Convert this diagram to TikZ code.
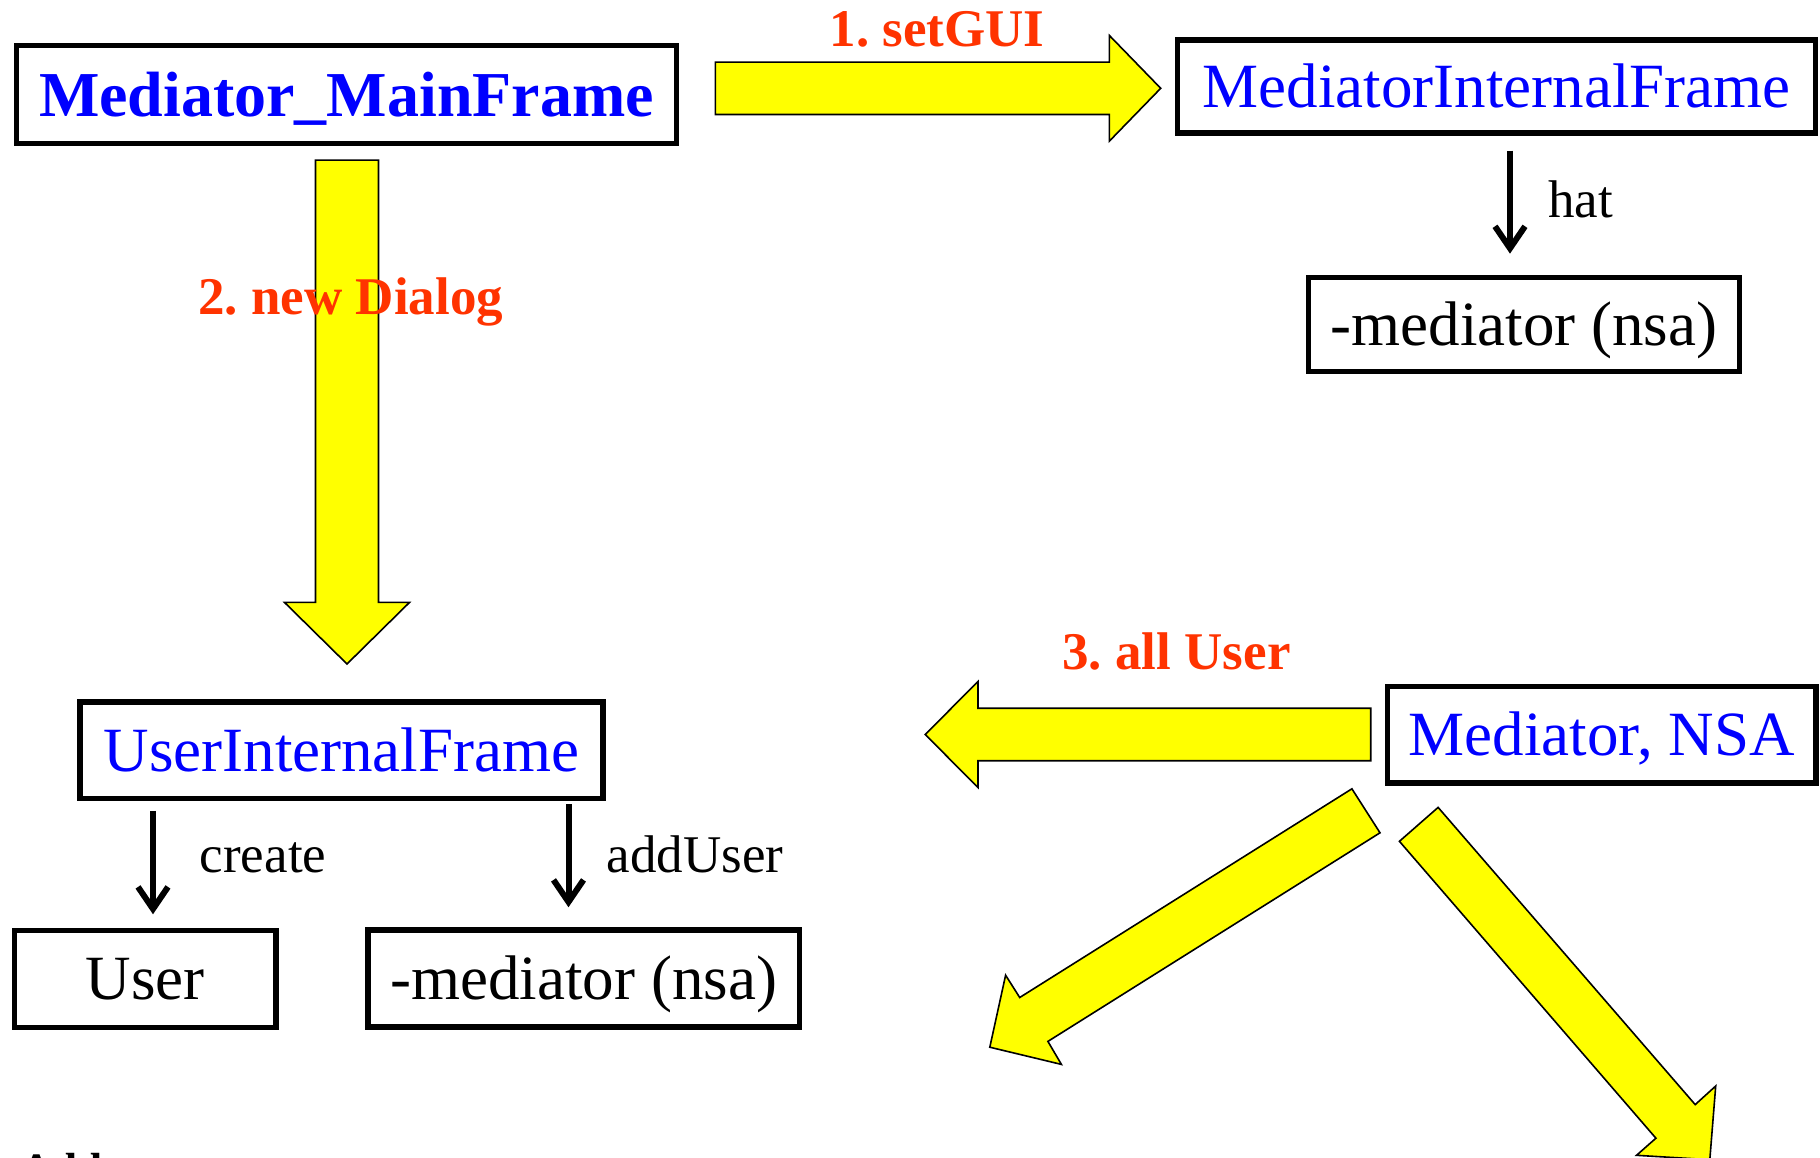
\documentclass[tikz,border=0pt]{standalone}
\usepackage{fontspec}
\setmainfont{Liberation Serif}
\usetikzlibrary{arrows.meta}
\frenchspacing
\definecolor{lblred}{RGB}{255,51,0}
\definecolor{boxblue}{RGB}{0,0,255}
\definecolor{arrowyellow}{RGB}{255,255,0}
\tikzset{
  box/.style={draw=black, line width=5.5pt, rectangle, inner sep=0pt,
    font=\fontsize{63}{70}\selectfont, text height=41.7pt, text depth=0pt},
  bluebox/.style={box, text=boxblue},
  blackbox/.style={box, text=black},
  bigarrow/.style={fill=arrowyellow, draw=black, line width=1.6pt, line join=miter},
  smallarrow/.style={line width=6pt, -{Straight Barb[length=22pt, width=30pt, line width=6pt]}},
  steplabel/.style={text=lblred, font=\bfseries\fontsize{53}{60}\selectfont, anchor=base, inner sep=0pt},
  rellabel/.style={font=\fontsize{53}{60}\selectfont, anchor=base west, inner sep=0pt},
}
\begin{document}
\begin{tikzpicture}[x=1pt, y=-1pt]
\useasboundingbox (0,0) rectangle (1820,1158);
\fill[white] (0,0) rectangle (1820,1158);

% boxes
\node[bluebox, font=\bfseries\fontsize{64}{70}\selectfont, text height=43.3pt,
      minimum width=660pt, minimum height=98pt] (mf) at (346.5,94.5) {Mediator\_MainFrame};
\node[bluebox, minimum width=638pt, minimum height=93pt] (mif) at (1496.5,86.5) {MediatorInternalFrame};
\node[blackbox, minimum width=431.4pt, minimum height=94pt] (nsa1) at (1524,324.4) {-mediator (nsa)};
\node[bluebox, minimum width=523pt, minimum height=96.5pt] (uif) at (341.5,750.25) {UserInternalFrame};
\node[blackbox, minimum width=261.6pt, minimum height=97pt] (user) at (145.2,979) {User};
\node[blackbox, minimum width=431.5pt, minimum height=97pt] (nsa2) at (583.7,978.5) {-mediator (nsa)};
\node[bluebox, minimum width=428.4pt, minimum height=96.6pt] (med) at (1601.8,734.7) {Mediator, NSA};

% big yellow arrows
\filldraw[bigarrow] (715.4,62.1) -- (1109.4,62.1) -- (1109.4,35.5) -- (1160.7,88.3)
  -- (1109.4,141.1) -- (1109.4,114.5) -- (715.4,114.5) -- cycle;
\filldraw[bigarrow] (315.5,160.2) -- (378.5,160.2) -- (378.5,602.4) -- (409.5,602.4)
  -- (347,664) -- (284.5,602.4) -- (315.5,602.4) -- cycle;
\filldraw[bigarrow] (1370.7,708.2) -- (978,708.2) -- (978,681.5) -- (925.2,734.5)
  -- (978,787.5) -- (978,760.7) -- (1370.7,760.7) -- cycle;
\filldraw[bigarrow] (1351.9,788.8) -- (1019.7,997.5) -- (1005.6,975.2) -- (989.8,1047.2)
  -- (1061.4,1064.4) -- (1047.9,1041.4) -- (1380.0,832.8) -- cycle;
\filldraw[bigarrow] (1438.1,807.4) -- (1695.2,1104.6) -- (1715.7,1086) -- (1709.8,1159.7)
  -- (1636.5,1155.3) -- (1655.9,1138.2) -- (1399.4,841.3) -- cycle;

% small arrows
\coordinate (xhat) at (1510,0);
\coordinate (xcreate) at (153,0);
\coordinate (xadd) at (568.5,0);
\draw[smallarrow, shorten <=15pt, shorten >=21pt] (xhat |- mif.south) -- (xhat |- nsa1.north);
\draw[smallarrow, shorten <=9.5pt, shorten >=13.5pt] (xcreate |- uif.south) -- (xcreate |- user.north);
\draw[smallarrow, shorten <=3pt, shorten >=20pt] (xadd |- uif.south) -- (xadd |- nsa2.north);

% labels
\node[rellabel] (lhat) at (1548,217.7) {hat};
\node[rellabel] (lcreate) at (199.6,872.5) {create};
\node[rellabel] (ladd) at (606.7,872.7) {addUser};
\node[steplabel] (l1) at (937,47) {1. setGUI};
\node[steplabel] (l2) at (350.8,315) {2. new Dialog};
\node[steplabel] (l3) at (1176.5,669) {3. all User};
\node[font=\bfseries\fontsize{45}{50}\selectfont, anchor=base west, inner sep=0pt] (bottom) at (20,1184) {Add};
\end{tikzpicture}
\end{document}
